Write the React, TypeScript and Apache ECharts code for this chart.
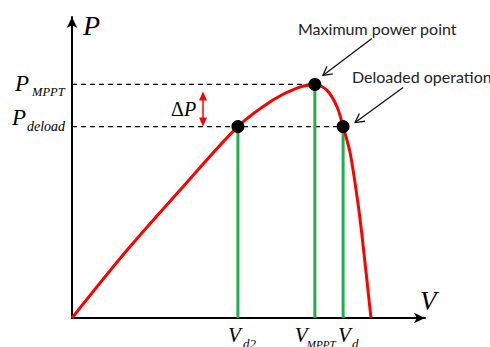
import React, { useEffect, useRef } from "react";
import * as echarts from "echarts";

// P–V curve (normalised units)
const curveV = [0, 15.5, 31.0, 47.0, 56.9, 63.7, 68.8, 72.2, 75.1, 76.8, 78.8, 81.0, 82.2, 84.7];
const curveP = [0, 22.4, 43.0, 63.6, 72.4, 76.4, 77.6, 75.7, 70.1, 63.6, 54.8, 38.2, 26.9, 0];

// operating points
const vD2 = 47.0;
const vMPPT = 68.8;
const vD = 76.8;
const pMPPT = 77.6;
const pDeload = 63.6;
const opV = [vD2, vMPPT, vD];
const opP = [pDeload, pMPPT, pDeload];

// labels
const vLabelSubs = ["d2", "MPPT", "d"];
const pLabelSubs = ["MPPT", "deload"];
const annotations = ["Maximum power point", "Deloaded operation"];

const SERIF = "'Liberation Serif', 'Times New Roman', serif";
const SANS = "Lato, 'Open Sans', sans-serif";

export default function App() {
  const ref = useRef<HTMLDivElement>(null);

  useEffect(() => {
    const chart = echarts.init(ref.current!, null, { renderer: "svg" });
    const axisCommon = {
      type: "value" as const,
      min: 0,
      max: 100,
      axisLine: {
        show: true,
        symbol: ["none", "arrow"],
        symbolSize: [8, 11],
        lineStyle: { color: "#000", width: 2 },
      },
      axisTick: { show: false },
      axisLabel: { show: false },
      splitLine: { show: false },
    };
    const series: any[] = [
      {
        type: "line",
        data: [[0, pMPPT], [vMPPT, pMPPT]],
        showSymbol: false,
        lineStyle: { color: "#000", width: 1.3, type: [5, 4] },
        z: 2,
      },
      {
        type: "line",
        data: [[0, pDeload], [vD, pDeload]],
        showSymbol: false,
        lineStyle: { color: "#000", width: 1.3, type: [5, 4] },
        z: 2,
      },
      ...opV.map((v, i) => ({
        type: "line",
        data: [[v, 0], [v, opP[i]]],
        showSymbol: false,
        lineStyle: { color: "#1db04c", width: 3 },
        z: 3,
      })),
      {
        type: "line",
        data: curveV.map((v, i) => [v, curveP[i]]),
        smooth: 0.3,
        showSymbol: false,
        lineStyle: { color: "#ff0000", width: 3 },
        z: 4,
      },
      {
        type: "scatter",
        data: opV.map((v, i) => [v, opP[i]]),
        symbolSize: 13,
        itemStyle: { color: "#000", opacity: 1 },
        z: 10,
      },
    ];
    chart.setOption({
      animation: false,
      grid: { left: 72, right: 65, top: 17, bottom: 29 },
      xAxis: axisCommon,
      yAxis: axisCommon,
      series,
    });

    const toPx = (v: number, p: number) =>
      chart.convertToPixel({ gridIndex: 0 }, [v, p]) as number[];
    const origin = toPx(0, 0);
    const pts = opV.map((v, i) => toPx(v, opP[i]));
    const [d2, mp, dd] = pts;

    const txt = (text: string, x: number, y: number, font: string, fill = "#000") => ({
      type: "text",
      x,
      y,
      z: 100,
      style: {
        text,
        font,
        fill,
        align: "left",
        verticalAlign: "middle",
        textAlign: "left",
        textVerticalAlign: "middle",
      },
    });
    const big = (s: number) => `italic ${s}px ${SERIF}`;

    const arrow = (tx: number, ty: number, hx: number, hy: number) => {
      const ang = Math.atan2(hy - ty, hx - tx);
      const L = 10;
      const a = 0.5;
      const p1 = [hx - L * Math.cos(ang - a), hy - L * Math.sin(ang - a)];
      const p2 = [hx - L * Math.cos(ang + a), hy - L * Math.sin(ang + a)];
      return [
        { type: "line", z: 100, shape: { x1: tx, y1: ty, x2: hx, y2: hy }, style: { stroke: "#111", lineWidth: 1.3 } },
        { type: "polyline", z: 100, shape: { points: [p1, [hx, hy], p2] }, style: { stroke: "#111", lineWidth: 1.3, fill: null } },
      ];
    };

    const dpX = origin[0] + 131;
    const dpTop = mp[1] + 7;
    const dpBot = dd[1];
    const graphic: any[] = [
      txt("P", 83, 25, big(28)),
      txt("V", 420, 301, big(27)),
      // P labels
      txt("P", 15, 83, big(23)),
      txt(pLabelSubs[0], 32, 91.5, big(12.5)),
      txt("P", 12, 117.5, big(23)),
      txt(pLabelSubs[1], 27, 126.5, big(14)),
      // ΔP
      txt("Δ", 171, 108.5, `20px ${SERIF}`),
      txt("P", 184, 108.5, big(20)),
      { type: "line", z: 100, shape: { x1: dpX, y1: dpTop + 6, x2: dpX, y2: dpBot - 6 }, style: { stroke: "#ff0000", lineWidth: 1.5 } },
      { type: "polygon", z: 100, shape: { points: [[dpX, dpTop], [dpX - 4, dpTop + 9], [dpX + 4, dpTop + 9]] }, style: { fill: "#ff0000" } },
      { type: "polygon", z: 100, shape: { points: [[dpX, dpBot], [dpX - 4, dpBot - 9], [dpX + 4, dpBot - 9]] }, style: { fill: "#ff0000" } },
      // V labels
      txt("V", d2[0] - 10, 335, big(21)),
      txt(vLabelSubs[0], d2[0] + 5, 343, big(13)),
      txt("V", mp[0] - 20, 335, big(21)),
      txt(vLabelSubs[1], mp[0] - 8, 344, big(11)),
      txt("V", dd[0] - 5, 335, big(21)),
      txt(vLabelSubs[2], dd[0] + 9, 343, big(13)),
      // annotations
      txt(annotations[0], 298, 28, `16px ${SANS}`, "#222"),
      txt(annotations[1], 352, 76.5, `16px ${SANS}`, "#222"),
      ...arrow(mp[0] + 57, mp[1] - 46, mp[0] + 8, mp[1] - 9),
      ...arrow(dd[0] + 60, dd[1] - 39, dd[0] + 12, dd[1] - 4),
    ];
    chart.setOption({ graphic });

    return () => chart.dispose();
  }, []);

  return (
    <div
      ref={ref}
      style={{ position: "fixed", left: 0, top: 0, width: 490, height: 347, background: "#fff" }}
    />
  );
}
